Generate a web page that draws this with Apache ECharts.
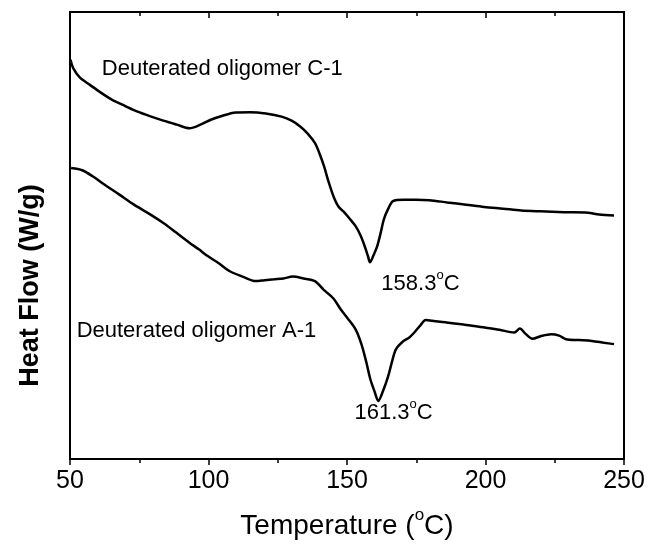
<!DOCTYPE html>
<html>
<head>
<meta charset="utf-8">
<script src="https://cdn.jsdelivr.net/npm/echarts@6/dist/echarts.min.js"></script>
<style>html,body{margin:0;padding:0;background:#fff}#c{width:648px;height:547px}</style>
</head>
<body>
<div id="c"></div>
<script>
// Temperature (°C) and heat flow (arbitrary, W/g)
const tempC1 = [50.2,51.1,53.6,57.2,60.8,65.1,69.8,74.4,78.8,83.7,88.6,93.1,97.1,100.8,105.1,109.8,115.1,120.7,126.4,130.0,133.1,135.8,138.4,140.1,141.7,143.3,145.1,146.9,149.1,150.9,153.1,154.9,156.4,157.6,158.3,159.4,160.9,162.2,163.3,164.9,166.6,170.4,175.0,179.7,186.2,193.0,199.5,206.4,212.9,219.7,228.4,237.0,241.0,246.4];
const flowC1 = [8.93,8.75,8.53,8.37,8.21,8.04,7.90,7.77,7.67,7.57,7.48,7.40,7.48,7.59,7.68,7.75,7.76,7.73,7.66,7.57,7.44,7.28,7.07,6.83,6.55,6.21,5.88,5.65,5.51,5.38,5.21,5.00,4.76,4.53,4.40,4.53,4.76,5.07,5.36,5.60,5.77,5.80,5.80,5.79,5.74,5.69,5.64,5.60,5.56,5.54,5.52,5.51,5.47,5.45];
const tempA1 = [50.4,54.4,58.3,62.4,67.7,73.1,78.5,83.7,88.2,93.1,96.5,99.7,103.7,107.7,112.3,117.0,120.3,123.7,127.1,130.4,134.3,138.4,141.5,145.1,147.7,150.2,153.1,155.2,157.0,158.4,159.9,161.3,163.0,164.9,166.3,167.7,170.4,172.5,174.3,176.5,178.4,181.9,186.4,193.1,199.7,205.0,210.4,212.4,214.3,217.0,220.1,223.7,226.6,229.1,233.8,238.4,242.8,246.4];
const flowA1 = [6.51,6.46,6.32,6.14,5.92,5.69,5.49,5.28,5.07,4.84,4.69,4.54,4.38,4.20,4.08,3.98,4.00,4.02,4.04,4.08,4.04,3.98,3.79,3.59,3.35,3.15,2.90,2.57,2.16,1.79,1.52,1.30,1.52,1.86,2.19,2.46,2.64,2.72,2.83,2.99,3.11,3.08,3.05,3.00,2.94,2.89,2.83,2.92,2.81,2.69,2.75,2.79,2.76,2.68,2.66,2.64,2.60,2.57];
const xTicks = [50,100,150,200,250];
const seriesNames = ['Deuterated oligomer C-1','Deuterated oligomer A-1'];
const peakLabels = ['158.3', '161.3'];
// annotation anchor points [temperature, heat flow]
const nameAnchorC1 = [61.5, 8.73];
const nameAnchorA1 = [52.4, 2.86];
const peakAnchorC1 = [162.4, 4.00];
const peakAnchorA1 = [152.7, 1.12];

const FONT = 'Liberation Sans, Arial, Helvetica, sans-serif';
function richFor(size){
  return {
    n:{fontSize:size, fontFamily:FONT, color:'#000', lineHeight:size, verticalAlign:'top', padding:[Math.round(size*0.18),0,0,0]},
    sup:{fontSize:Math.round(size*0.6), fontFamily:FONT, color:'#000', lineHeight:Math.round(size*0.6), verticalAlign:'top'}
  };
}
function withDeg(before, after){ return '{n|'+before+'}{sup|o}{n|'+after+'}'; }

function pair(t, f){ return t.map((v,i)=>[v,f[i]]); }
function note(coord, text, rich){
  return {coord:coord, symbol:'circle', symbolSize:0,
    label:{show:true, position:'inside', align:'left', verticalAlign:'middle',
      formatter:text, color:'#000', fontFamily:FONT, fontSize:22, rich:rich||{}}};
}

const chart = echarts.init(document.getElementById('c'), null, {renderer:'canvas'});
chart.setOption({
  animation:false,
  backgroundColor:'#fff',
  grid:{left:70, right:24, top:12, bottom:88, show:true, borderColor:'#000', borderWidth:2},
  xAxis:[{
    type:'value', min:xTicks[0], max:xTicks[xTicks.length-1], interval:50, position:'bottom',
    axisLine:{show:true, lineStyle:{color:'#000', width:2}},
    axisTick:{show:true, inside:false, length:6, lineStyle:{color:'#000', width:1.5}},
    minorTick:{show:true, splitNumber:2, length:4, lineStyle:{color:'#000', width:1.5}},
    splitLine:{show:false},
    axisLabel:{color:'#000', fontFamily:FONT, fontSize:25, margin:10},
    name:withDeg('Temperature (', 'C)'), nameLocation:'middle', nameGap:48,
    nameTextStyle:{color:'#000', fontFamily:FONT, fontSize:28, rich:richFor(28)}
  },{
    type:'value', min:xTicks[0], max:xTicks[xTicks.length-1], interval:50, position:'top',
    axisLine:{show:true, lineStyle:{color:'#000', width:2}},
    axisTick:{show:true, inside:true, length:6, lineStyle:{color:'#000', width:1.5}},
    minorTick:{show:true, splitNumber:2, length:4, lineStyle:{color:'#000', width:1.5}},
    splitLine:{show:false}, axisLabel:{show:false}
  }],
  yAxis:{
    type:'value', min:0, max:10,
    axisLine:{show:true, lineStyle:{color:'#000', width:2}},
    axisTick:{show:false}, splitLine:{show:false}, axisLabel:{show:false},
    name:'Heat Flow (W/g)', nameLocation:'middle', nameGap:26,
    nameTextStyle:{color:'#000', fontFamily:FONT, fontSize:27, fontWeight:'bold', padding:[0,100,0,0]}
  },
  series:[{
    name:seriesNames[0], type:'line', data:pair(tempC1, flowC1), showSymbol:false, smooth:0.3,
    lineStyle:{color:'#000', width:2.5}, silent:true,
    markPoint:{silent:true, data:[note(nameAnchorC1, seriesNames[0]), note(peakAnchorC1, withDeg(peakLabels[0],'C'), richFor(22))]}
  },{
    name:seriesNames[1], type:'line', data:pair(tempA1, flowA1), showSymbol:false, smooth:0.3,
    lineStyle:{color:'#000', width:2.5}, silent:true,
    markPoint:{silent:true, data:[note(nameAnchorA1, seriesNames[1]), note(peakAnchorA1, withDeg(peakLabels[1],'C'), richFor(22))]}
  }]
});
</script>
</body>
</html>
